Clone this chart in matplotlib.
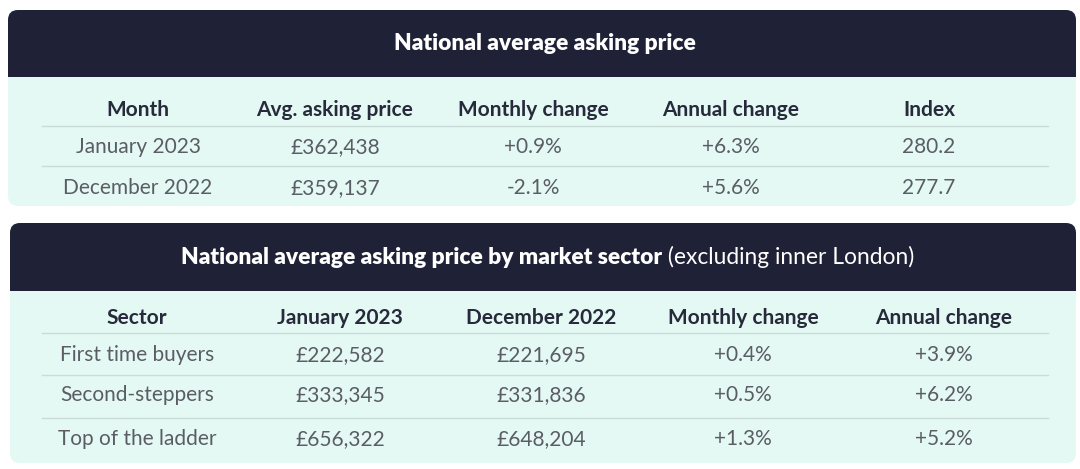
import matplotlib
matplotlib.use("Agg")
import matplotlib.pyplot as plt
from matplotlib.patches import FancyBboxPatch, Rectangle

# table 1 data
months = ["January 2023", "December 2022"]
avg_price = ["£362,438", "£359,137"]
monthly_change = ["+0.9%", "-2.1%"]
annual_change = ["+6.3%", "+5.6%"]
index_vals = ["280.2", "277.7"]
cols1 = ["Month", "Avg. asking price", "Monthly change", "Annual change", "Index"]

# table 2 data
sectors = ["First time buyers", "Second-steppers", "Top of the ladder"]
jan_2023 = ["£222,582", "£333,345", "£656,322"]
dec_2022 = ["£221,695", "£331,836", "£648,204"]
sector_monthly = ["+0.4%", "+0.5%", "+1.3%"]
sector_annual = ["+3.9%", "+6.2%", "+5.2%"]
cols2 = ["Sector", "January 2023", "December 2022", "Monthly change", "Annual change"]

NAVY = "#1f2236"
MINT = "#e5f9f4"
LINE = "#c9dcd7"
HEAD = "#262a3b"
BODY = "#5a5d65"
FONT = "Lato"

W, H = 1080, 469
fig = plt.figure(figsize=(W / 100, H / 100), dpi=100)
fig.patch.set_facecolor("white")
ax = fig.add_axes([0, 0, 1, 1])
ax.set_xlim(0, W); ax.set_ylim(H, 0); ax.axis("off")


def panel(x0, x1, top, head_bot, bot, r=10):
    ax.add_patch(FancyBboxPatch((x0 + r, top + r), x1 - x0 - 2 * r, bot - top - 2 * r,
                                boxstyle=f"round,pad={r}", fc=MINT, ec="none"))
    ax.add_patch(FancyBboxPatch((x0 + r, top + r), x1 - x0 - 2 * r, head_bot - top - 2 * r,
                                boxstyle=f"round,pad={r}", fc=NAVY, ec="none"))
    ax.add_patch(Rectangle((x0, head_bot - r - 1), x1 - x0, r + 1, fc=NAVY, ec="none"))


def table(xs, head_y, cols, rows, row_ys, line_ys, lx0=42, lx1=1048):
    for x, c in zip(xs, cols):
        ax.text(x, head_y, c, ha="center", va="center", fontsize=15, fontweight="bold",
                color=HEAD, family=FONT)
    for ly in line_ys:
        ax.plot([lx0, lx1], [ly, ly], color=LINE, lw=1.0)
    for ry, row in zip(row_ys, rows):
        for x, v in zip(xs, row):
            ax.text(x, ry, v, ha="center", va="center", fontsize=15, fontweight="normal",
                    color=BODY, family=FONT)


# panel 1
panel(8, 1076, 10, 77, 206)
ax.text(545, 44, "National average asking price", ha="center", va="center", fontsize=16.4,
        fontweight="heavy", color="white", family=FONT)
rows1 = list(zip(months, avg_price, monthly_change, annual_change, index_vals))
table([138, 335, 533, 731, 929], 110, cols1, rows1, [147, 188], [126, 166])

# panel 2 (title in two weights)
panel(10, 1076, 223, 291, 463)
fig.canvas.draw()
rend = fig.canvas.get_renderer()
t1 = ax.text(0, 257, "National average asking price by market sector", ha="left", va="center",
             fontsize=16.4, fontweight="heavy", color="white", family=FONT)
t2 = ax.text(0, 257, " (excluding inner London)", ha="left", va="center",
             fontsize=16.4, fontweight="normal", color="white", family=FONT)
w1 = t1.get_window_extent(rend).width
w2 = t2.get_window_extent(rend).width
start = 548 - (w1 + w2) / 2
t1.set_x(start); t2.set_x(start + w1)
rows2 = list(zip(sectors, jan_2023, dec_2022, sector_monthly, sector_annual))
table([137, 340, 541, 743, 944], 318, cols2, rows2, [355, 395, 439], [333, 375, 418])

fig.savefig("out.png", dpi=100, facecolor="white")
